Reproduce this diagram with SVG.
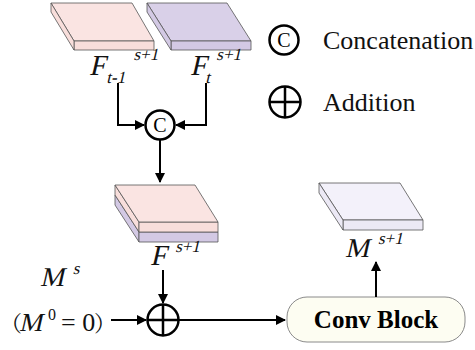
<svg xmlns="http://www.w3.org/2000/svg" width="475" height="350" viewBox="0 0 475 350">
  <defs>
    <marker id="arrow" viewBox="0 0 10 10" refX="9" refY="5" markerWidth="5.5" markerHeight="5" orient="auto" markerUnits="strokeWidth">
      <path d="M0,0 L10,5 L0,10 z" fill="#000"/>
    </marker>
  </defs>

  <!-- F_{t-1}^{s+1} feature slab; math labels are slanted with skewX -->
  <g id="slab-ft-1" stroke-linejoin="round">
    <g stroke="#555" stroke-width="0.8">
      <polygon fill="#fae4e2" points="51,3 132,3 154,41 74,41"/>
      <polygon fill="#f8dedb" points="74,41 154,41 154,50 74,50"/>
      <polygon fill="#f8dedb" points="51,3 74,41 74,50 51,12"/>
    </g>
    <g transform="translate(89,75) skewX(-13)">
      <text x="0" y="0" font-family="Liberation Serif" font-size="29" fill="#111">F<tspan font-size="17" dx="3" dy="8">t-1</tspan><tspan font-size="17" dx="3" dy="-23">s+1</tspan></text>
    </g>
  </g>

  <!-- F_t^{s+1} feature slab -->
  <g id="slab-ft" stroke-linejoin="round">
    <g stroke="#555" stroke-width="0.8">
      <polygon fill="#d9d0e8" points="147,3 227,3 251,41 171,41"/>
      <polygon fill="#d3c9e4" points="171,41 251,41 251,50 171,50"/>
      <polygon fill="#d3c9e4" points="147,3 171,41 171,50 147,12"/>
    </g>
    <g transform="translate(190,75) skewX(-13)">
      <text x="0" y="0" font-family="Liberation Serif" font-size="29" fill="#111">F<tspan font-size="17" dx="1" dy="8">t</tspan><tspan font-size="17" dx="1" dy="-23">s+1</tspan></text>
    </g>
  </g>

  <!-- concatenation operator -->
  <g id="concat">
    <circle cx="160" cy="125" r="14.5" fill="#fff" stroke="#000" stroke-width="2.5"/>
    <text x="160" y="132" font-family="Liberation Serif" font-size="20" text-anchor="middle" fill="#000">C</text>
  </g>

  <!-- fused F^{s+1} slab (two stacked layers) -->
  <g id="slab-f" stroke-linejoin="round">
    <g stroke="#555" stroke-width="0.8">
      <polygon fill="#d3c9e4" points="115,195 139,232 139,242 115,205"/>
      <polygon fill="#d3c9e4" points="139,232 218,232 218,242 139,242"/>
      <polygon fill="#f8dedb" points="115,185 139,222 139,232 115,195"/>
      <polygon fill="#f8dedb" points="139,222 218,222 218,232 139,232"/>
      <polygon fill="#fae4e2" points="115,185 195,185 218,222 139,222"/>
    </g>
    <g transform="translate(150,265) skewX(-13)">
      <text x="0" y="0" font-family="Liberation Serif" font-size="29" fill="#111">F<tspan font-size="17" dx="6" dy="-13">s+1</tspan></text>
    </g>
  </g>

  <!-- M^s input with its initial value -->
  <g id="input-m">
    <g transform="translate(40,286) skewX(-13)">
      <text x="0" y="0" font-family="Liberation Serif" font-size="27" fill="#111">M<tspan font-size="17" dx="6" dy="-12">s</tspan></text>
    </g>
    <text x="0" y="331" font-family="Noto Serif CJK SC" font-size="22" fill="#111">（</text>
    <g transform="translate(19,331) skewX(-13)">
      <text x="0" y="0" font-family="Liberation Serif" font-size="26" fill="#111">M</text>
    </g>
    <text x="48" y="320" font-family="Liberation Serif" font-size="16" fill="#111">0</text>
    <text x="61" y="331" font-family="Liberation Serif" font-size="26" fill="#111">= 0</text>
    <text x="94" y="331" font-family="Noto Serif CJK SC" font-size="22" fill="#111">）</text>
  </g>

  <!-- addition operator -->
  <g id="add" stroke="#000" stroke-width="2.5">
    <circle cx="163" cy="320" r="15.5" fill="#fff"/>
    <path d="M147.5,320 H178.5 M163,304.5 V335.5"/>
  </g>

  <!-- convolution block -->
  <g id="conv-block">
    <rect x="287" y="297" width="178" height="45" rx="20" fill="#fdfdf2" stroke="#8a8a8a" stroke-width="1"/>
    <text x="376" y="328" font-family="Liberation Serif" font-size="25" font-weight="bold" text-anchor="middle" fill="#000">Conv Block</text>
  </g>

  <!-- M^{s+1} output slab -->
  <g id="slab-m" stroke-linejoin="round">
    <g stroke="#555" stroke-width="0.8">
      <polygon fill="#f3f1fa" points="319,183 400,183 423,220 343,220"/>
      <polygon fill="#ece9f5" points="343,220 423,220 423,230 343,230"/>
      <polygon fill="#ece9f5" points="319,183 343,220 343,230 319,193"/>
    </g>
    <g transform="translate(345,257) skewX(-13)">
      <text x="0" y="0" font-family="Liberation Serif" font-size="27" fill="#111">M<tspan font-size="17" dx="6" dy="-13">s+1</tspan></text>
    </g>
  </g>

  <!-- legend -->
  <g id="legend">
    <circle cx="284" cy="40" r="14.5" fill="#fff" stroke="#000" stroke-width="2.5"/>
    <text x="284" y="47" font-family="Liberation Serif" font-size="20" text-anchor="middle" fill="#000">C</text>
    <text x="323" y="49" font-family="Liberation Serif" font-size="26" fill="#111">Concatenation</text>
    <g stroke="#000" stroke-width="2.5">
      <circle cx="285" cy="102" r="15.5" fill="#fff"/>
      <path d="M269.5,102 H300.5 M285,86.5 V117.5"/>
    </g>
    <text x="323" y="111" font-family="Liberation Serif" font-size="26" fill="#111">Addition</text>
  </g>

  <!-- connectors -->
  <g id="connectors" fill="none" stroke="#000" stroke-width="2">
    <path d="M118,83 V125 H144" marker-end="url(#arrow)"/>
    <path d="M206,83 V125 H176" marker-end="url(#arrow)"/>
    <path d="M160,140 V182" marker-end="url(#arrow)"/>
    <path d="M163,270 V303" marker-end="url(#arrow)"/>
    <path d="M111,320 H146" marker-end="url(#arrow)"/>
    <path d="M179,320 H285" marker-end="url(#arrow)"/>
    <path d="M376,297 V262" marker-end="url(#arrow)"/>
  </g>
</svg>
